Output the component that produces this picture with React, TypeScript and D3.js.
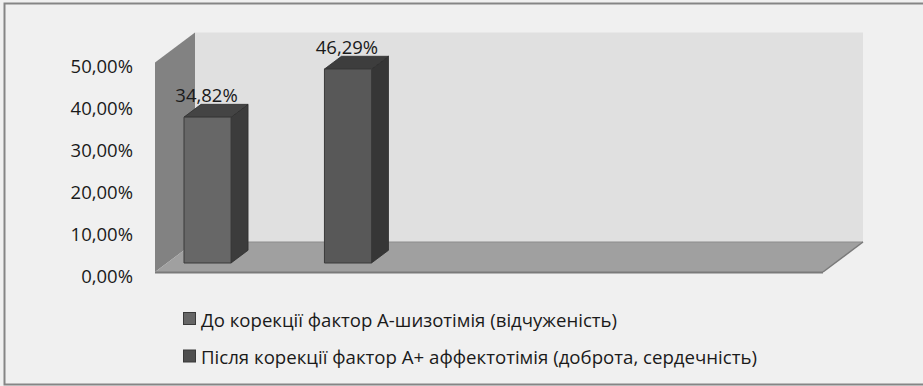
import React from "react";
import * as d3 from "d3";

const seriesNames = [
  "До корекції фактор А-шизотімія (відчуженість)",
  "Після корекції фактор А+ аффектотімія  (доброта, сердечність)",
];
const seriesValues = [0.3482, 0.4629];
const valueLabels = ["34,82%", "46,29%"];
const tickValues = [0, 0.1, 0.2, 0.3, 0.4, 0.5];
const tickLabels = ["0,00%", "10,00%", "20,00%", "30,00%", "40,00%", "50,00%"];

const W = 923;
const H = 386;
const FONT = "'Open Sans', 'Noto Sans', sans-serif";

const frontColors = ["#676767", "#585858"];
const sideColors = ["#3c3c3c", "#363636"];
const topColors = ["#444444", "#3d3d3d"];
const swatchColors = ["#666666", "#4f4f4f"];

export default function App() {
  const y = d3.scaleLinear().domain([0, 0.5]).range([272, 62.5]);
  const boxLeft = 155;
  const boxRight = 823;
  const DX = 40;
  const DY = -30;
  const P = (x: number, yy: number, d: number): [number, number] => [x + d * DX, yy + d * DY];
  const poly = (pts: [number, number][]) => pts.map((p) => p.join(",")).join(" ");

  const x = d3
    .scaleBand<string>()
    .domain(seriesNames)
    .range([172, 359.5])
    .paddingInner(0.665)
    .paddingOuter(0);

  const d0 = 0.3;
  const d1 = 0.725;

  const leftWall = poly([
    P(boxLeft, y(0.5), 0),
    P(boxLeft, y(0.5), 1),
    P(boxLeft, y(0), 1),
    P(boxLeft, y(0), 0),
  ]);
  const backWall = poly([
    P(boxLeft, y(0.5), 1),
    P(boxRight, y(0.5), 1),
    P(boxRight, y(0), 1),
    P(boxLeft, y(0), 1),
  ]);
  const floor = poly([
    P(boxLeft, y(0), 0),
    P(boxRight, y(0), 0),
    P(boxRight, y(0), 1),
    P(boxLeft, y(0), 1),
  ]);

  return (
    <div style={{ position: "fixed", left: 0, top: 0 }}>
      <svg width={W} height={H} style={{ display: "block" }}>
        <rect x={0} y={0} width={W} height={H} fill="#f0f0f0" />
        <rect x={4.5} y={3.5} width={930} height={381} fill="#f0f0f0" stroke="#858585" strokeWidth={2} />
        <polygon points={backWall} fill="#e0e0e0" />
        <polygon points={leftWall} fill="#828282" />
        <polygon points={floor} fill="#a0a0a0" />
        <line x1={boxLeft} y1={y(0) + 0.5} x2={boxRight} y2={y(0) + 0.5} stroke="#7a7a7a" strokeWidth={2} />
        <line
          x1={P(boxLeft, y(0), 1)[0]}
          y1={P(boxLeft, y(0), 1)[1]}
          x2={P(boxRight, y(0), 1)[0]}
          y2={P(boxRight, y(0), 1)[1]}
          stroke="#8c8c8c"
          strokeWidth={1}
        />
        <line
          x1={boxRight}
          y1={y(0)}
          x2={P(boxRight, y(0), 1)[0]}
          y2={P(boxRight, y(0), 1)[1]}
          stroke="#7a7a7a"
          strokeWidth={1.5}
        />
        {tickValues.map((v, i) => (
          <text
            key={i}
            x={133}
            y={y(v) + 3}
            textAnchor="end"
            dominantBaseline="central"
            fontFamily={FONT}
            fontSize={18.5}
            fill="#1a1a1a"
          >
            {tickLabels[i]}
          </text>
        ))}
        {seriesNames.map((name, i) => {
          const xl = x(name) as number;
          const xr = xl + x.bandwidth();
          const v = seriesValues[i];
          const front = poly([P(xl, y(v), d0), P(xr, y(v), d0), P(xr, y(0), d0), P(xl, y(0), d0)]);
          const side = poly([P(xr, y(v), d0), P(xr, y(v), d1), P(xr, y(0), d1), P(xr, y(0), d0)]);
          const top = poly([P(xl, y(v), d0), P(xl, y(v), d1), P(xr, y(v), d1), P(xr, y(v), d0)]);
          const labelPos = P((xl + xr) / 2, y(v), d1);
          return (
            <g key={name}>
              <polygon points={side} fill={sideColors[i]} stroke="#2e2e2e" strokeWidth={0.8} />
              <polygon points={top} fill={topColors[i]} stroke="#2e2e2e" strokeWidth={0.8} />
              <polygon points={front} fill={frontColors[i]} stroke="#3a3a3a" strokeWidth={1} />
              <text
                x={labelPos[0] - 18}
                y={labelPos[1] - 2}
                textAnchor="middle"
                fontFamily={FONT}
                fontSize={18.5}
                fill="#1a1a1a"
              >
                {valueLabels[i]}
              </text>
            </g>
          );
        })}
        {seriesNames.map((name, i) => (
          <g key={"lg" + i}>
            <rect
              x={183.5}
              y={312.5 + i * 37.5}
              width={12}
              height={12}
              fill={swatchColors[i]}
              stroke="#3a3a3a"
              strokeWidth={1}
            />
            <text
              x={201}
              y={327 + i * 37}
              fontFamily={FONT}
              fontSize={18}
              fill="#1a1a1a"
              textLength={i === 0 ? 416 : 556}
              lengthAdjust="spacingAndGlyphs"
            >
              {name}
            </text>
          </g>
        ))}
      </svg>
    </div>
  );
}
